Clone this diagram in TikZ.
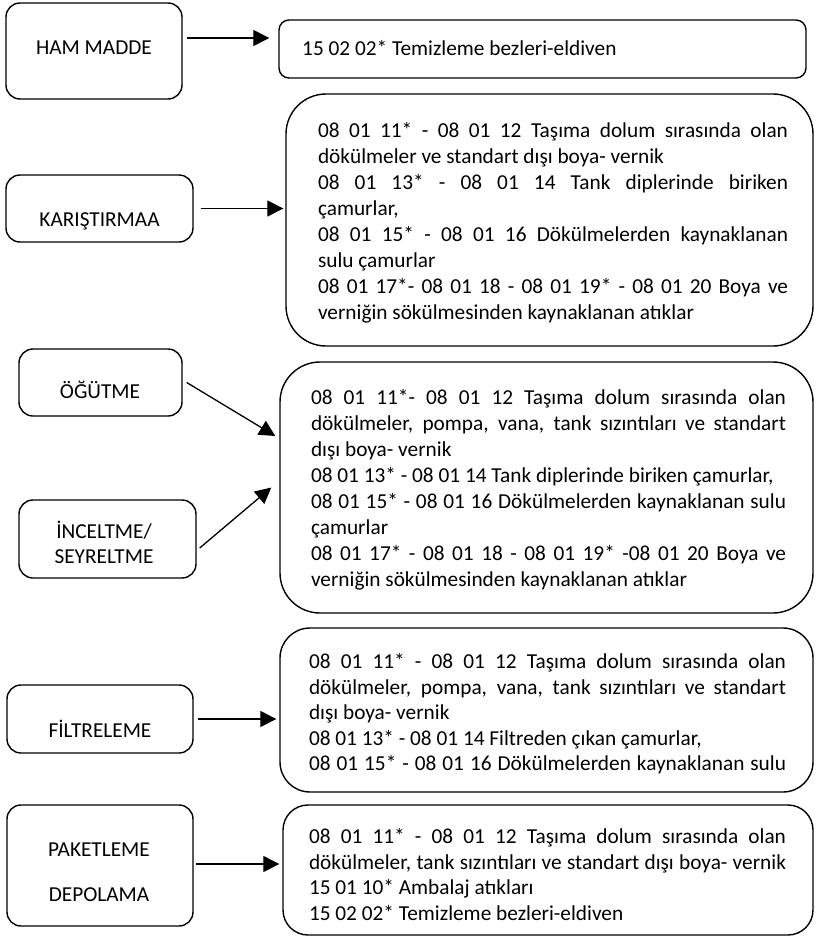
\documentclass[tikz,border=0pt]{standalone}
\usepackage{fontspec}
\setmainfont{Carlito}
\usetikzlibrary{arrows.meta}
\newcommand{\J}[2]{\makebox[#1][s]{#2}}
\newcommand{\Lf}[2]{\makebox[#1][l]{#2}}
\begin{document}
\begin{tikzpicture}[x=1pt,y=-1pt,
  lbox/.style={draw, line width=1.4pt, rounded corners=14pt, inner sep=0pt},
  rbox/.style={draw, line width=1.4pt, inner sep=0pt},
  arr/.style={-{Triangle[length=16pt,width=16pt]}, line width=1.3pt},
  lab/.style={font=\fontsize{21.3}{25}\selectfont, inner sep=0pt, align=center},
  wide/.style={font=\fontsize{21.3}{26}\selectfont, inner sep=0pt, align=left},
  tight/.style={font=\fontsize{21.3}{25.5}\selectfont, inner sep=0pt, align=left}]
\useasboundingbox (0,0) rectangle (815,937);
\fill[white] (0,0) rectangle (815,937);

% left boxes
\node[lbox, minimum width=176pt, minimum height=96pt] (ham) at (94,51) {};
\node[lab] (hamt) at (94,48) {HAM MADDE};
\node[lbox, minimum width=187pt, minimum height=67pt] (kar) at (99.5,208.5) {};
\node[lab] (kart) at (99.5,221) {KARIŞTIRMAA};
\node[lbox, minimum width=163pt, minimum height=67pt] (ogu) at (100.5,382.5) {};
\node[lab] (ogut) at (100,390) {ÖĞÜTME};
\node[lbox, minimum width=177pt, minimum height=78pt] (inc) at (107.5,539) {};
\node[lab] (inct) at (104,542) {İNCELTME/\\SEYRELTME};
\node[lbox, minimum width=186pt, minimum height=68pt] (fil) at (100,719) {};
\node[lab] (filt) at (100,729) {FİLTRELEME};
\node[lbox, minimum width=186pt, minimum height=121pt] (pak) at (100,865.5) {};
\node[lab, font=\fontsize{21.3}{45}\selectfont] (pakt) at (99,872.5) {PAKETLEME\\DEPOLAMA};

% right boxes
\node[rbox, rounded corners=10pt, minimum width=527pt, minimum height=58pt] (w1) at (542.5,49) {};
\node[lab, anchor=west] (w1t) at (302,48) {15 02 02* Temizleme bezleri-eldiven};

\node[rbox, rounded corners=40pt, minimum width=527pt, minimum height=252pt] (w2) at (549.5,220) {};
\node[wide] (w2t) at (553,223) {%
\J{470pt}{08 01 11* - 08 01 12 Taşıma dolum sırasında olan}\\
\Lf{470pt}{dökülmeler ve standart dışı boya- vernik}\\
\J{470pt}{08 01 13* - 08 01 14 Tank diplerinde biriken}\\
\Lf{470pt}{çamurlar,}\\
\J{470pt}{08 01 15* - 08 01 16 Dökülmelerden kaynaklanan}\\
\Lf{470pt}{sulu çamurlar}\\
\J{470pt}{08 01 17*- 08 01 18 - 08 01 19* - 08 01 20 Boya ve}\\
\Lf{470pt}{verniğin sökülmesinden kaynaklanan atıklar}};

\node[rbox, rounded corners=40pt, minimum width=533pt, minimum height=251pt] (w3) at (546.5,487.5) {};
\node[wide] (w3t) at (548.5,489.5) {%
\J{475pt}{08 01 11*- 08 01 12 Taşıma dolum sırasında olan}\\
\J{475pt}{dökülmeler, pompa, vana, tank sızıntıları ve standart}\\
\Lf{475pt}{dışı boya- vernik}\\
\Lf{475pt}{08 01 13* - 08 01 14 Tank diplerinde biriken çamurlar,}\\
\J{475pt}{08 01 15* - 08 01 16 Dökülmelerden kaynaklanan sulu}\\
\Lf{475pt}{çamurlar}\\
\J{475pt}{08 01 17* - 08 01 18 - 08 01 19* -08 01 20 Boya ve}\\
\Lf{475pt}{verniğin sökülmesinden kaynaklanan atıklar}};

\node[rbox, rounded corners=30pt, minimum width=533pt, minimum height=164pt] (w4) at (546.5,710) {};
\node[tight] (w4t) at (547.5,714) {%
\J{477pt}{08 01 11* - 08 01 12 Taşıma dolum sırasında olan}\\
\J{477pt}{dökülmeler, pompa, vana, tank sızıntıları ve standart}\\
\Lf{477pt}{dışı boya- vernik}\\
\Lf{477pt}{08 01 13* - 08 01 14 Filtreden çıkan çamurlar,}\\
\J{477pt}{08 01 15* - 08 01 16 Dökülmelerden kaynaklanan sulu}};

\node[rbox, rounded corners=25pt, minimum width=530pt, minimum height=130pt] (w5) at (548,870) {};
\node[tight] (w5t) at (547.5,874.5) {%
\J{477pt}{08 01 11* - 08 01 12 Taşıma dolum sırasında olan}\\
\J{477pt}{dökülmeler, tank sızıntıları ve standart dışı boya- vernik}\\
\Lf{477pt}{15 01 10* Ambalaj atıkları}\\
\Lf{477pt}{15 02 02* Temizleme bezleri-eldiven}};

% arrows
\coordinate (h1) at ([xshift=4pt,yshift=13pt]ham.east);
\draw[arr, shorten >=9pt] (h1) -- (h1 -| w1.west);
\draw[arr, shorten <=7pt, shorten >=2pt] (kar.east) -- (kar.east -| w2.west);
\draw[arr] ([xshift=4pt]ogu.east) -- ([xshift=-4pt,yshift=51.5pt]w3.west);
\draw[arr] ([xshift=3pt,yshift=-9pt]inc.east) -- ([xshift=-8pt]w3.west);
\draw[arr, shorten <=4pt, shorten >=3pt] (fil.east) -- (fil.east -| w4.west);
\coordinate (p1) at ([yshift=1.5pt]pak.east);
\draw[arr, shorten <=2pt, shorten >=3pt] (p1) -- (p1 -| w5.west);
\end{tikzpicture}
\end{document}
